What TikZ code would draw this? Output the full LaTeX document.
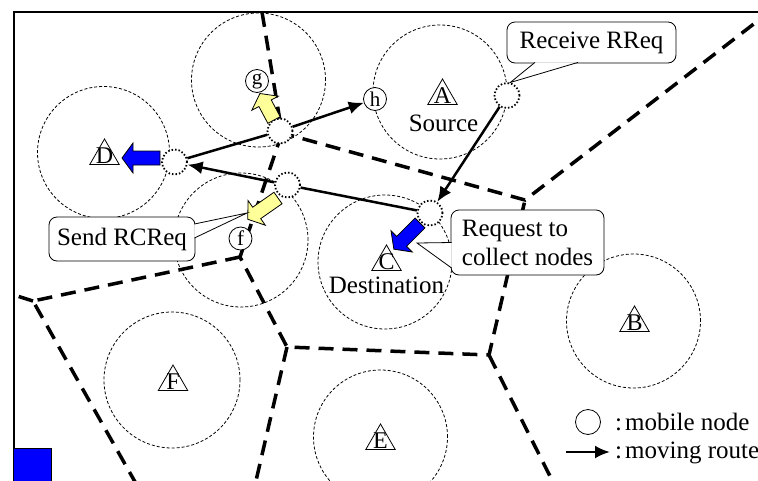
\documentclass[tikz,border=0pt]{standalone}
\usepackage{fontspec}
\setmainfont{Liberation Serif}
\usetikzlibrary{shapes.geometric,arrows.meta}
\definecolor{paleyellow}{RGB}{255,255,153}
\newcommand{\fatarrow}[4]{% tail, angle, length, colour
  \draw[line width=0.8pt,fill=#4,shift={#1},rotate=#2]
    (0,-7) -- ({#3-11},-7) -- ({#3-11},-15) -- (#3,0) -- ({#3-11},15) -- ({#3-11},7) -- (0,7) -- cycle;}
\tikzset{
  cellborder/.style={line width=3.5pt,dash pattern=on 15pt off 9pt},
  radiorange/.style={line width=0.8pt,dash pattern=on 3pt off 2pt},
  relay/.style={circle,draw,fill=white,line width=1.8pt,dash pattern=on 1.5pt off 2pt,minimum size=25pt,inner sep=0pt},
  mnode/.style={circle,draw,fill=white,line width=0.8pt,minimum size=23pt,inner sep=0pt,font=\fontsize{21}{21}\selectfont},
  station/.style={regular polygon,regular polygon sides=3,draw,line width=0.8pt,minimum size=34pt,inner sep=0pt,
    label={[font=\fontsize{24}{24}\selectfont,inner sep=0pt]center:#1}},
  route/.style={line width=2.5pt,-{Latex[length=15pt,width=13pt]}},
  callout/.style={draw,fill=white,rounded corners=8pt,line width=0.8pt,inner sep=0pt,font=\fontsize{25}{29}\selectfont},
  pointer/.style={draw,fill=white,line width=0.8pt},
  txt/.style={inner sep=0pt,font=\fontsize{25}{29}\selectfont}
}

\begin{document}
\begin{tikzpicture}[x=1pt,y=-1pt]
  \useasboundingbox (0,0) rectangle (758,480);
  \draw[line width=2.5pt] (770,12.2) -- (14.2,12.2) -- (14.2,490);
  \draw[fill=blue,line width=0.8pt] (13.5,448) rectangle (51,490);

  % cell borders
  \coordinate (e1) at (262,12);
  \coordinate (e2) at (768,13);
  \coordinate (e3) at (560,496);
  \coordinate (e4) at (252,498);
  \coordinate (e5) at (143,496);
  \coordinate (e6) at (14,295);
  \coordinate (j1) at (282,133);
  \coordinate (j2) at (525,200);
  \coordinate (j3) at (489,355);
  \coordinate (j4) at (287,347);
  \coordinate (j5) at (240,257);
  \coordinate (j6) at (33,301);
  \draw[cellborder] (e1) -- (j1) -- (j2) -- (e2);
  \draw[cellborder] (j1) -- (j5) -- (j4) -- (j3) -- (j2);
  \draw[cellborder] (j5) -- (j6) -- (e5);
  \draw[cellborder] (j6) -- (e6);
  \draw[cellborder] (j4) -- (e4);
  \draw[cellborder] (j3) -- (e3);

  % radio ranges
  \draw[radiorange] (258.5,80) circle (67pt);
  \draw[radiorange] (103.5,152.5) circle (66pt);
  \draw[radiorange] (440,92) circle (67pt);
  \draw[radiorange] (241,240) circle (67pt);
  \draw[radiorange] (385,262) circle (67pt);
  \draw[radiorange] (633.5,321) circle (67pt);
  \draw[radiorange] (172,380) circle (68pt);
  \draw[radiorange] (380.5,437) circle (67pt);

  \node[station=A] (stA) at (442.5,96) {};
  \node[station=B] (stB) at (634.5,323) {};
  \node[station=C] (stC) at (386.5,262) {};
  \node[station=D] (stD) at (104.5,156) {};
  \node[station=E] (stE) at (380.5,441) {};
  \node[station=F] (stF) at (173,382) {};
  \node[txt,anchor=base] (srclab) at (443.5,131) {Source};
  \node[txt,anchor=base] (dstlab) at (386.5,293) {Destination};

  \node[mnode] (g) at (257,81) {g};
  \node[mnode] (h) at (375,99) {h};
  \node[mnode] (f) at (240.5,238.5) {f};

  \node[relay] (P1) at (280,131) {};
  \node[relay] (P2) at (174.5,162) {};
  \node[relay] (P3) at (287.5,185) {};
  \node[relay] (P4) at (507,95.5) {};
  \node[relay] (P5) at (430,213) {};

  \draw[line width=2.5pt] (P2) -- (P1);
  \draw[route] (P1) -- (h);
  \draw[route] (P4) -- (P5);
  \draw[line width=2.5pt] (P5) -- (P3);
  \draw[route] (P3) -- (P2);

  \fatarrow{(160,158)}{180}{38}{blue}
  \fatarrow{(420,223)}{225}{37}{blue}
  \fatarrow{(274,120)}{118}{30}{paleyellow}
  \fatarrow{(278,198)}{215}{37}{paleyellow}

  % callouts
  \node[callout,minimum width=169pt,minimum height=41pt] (rreq) at (591.5,42.5) {Receive RReq};
  \draw[pointer] ([xshift=-56.5pt,yshift=1pt]rreq.south) -- (P4.76) -- ([xshift=-13.5pt,yshift=1pt]rreq.south);
  \node[callout,minimum width=146pt,minimum height=44pt] (rcreq) at (122,239) {Send RCReq};
  \coordinate (rcreqtip) at (247,213);
  \draw[pointer] ([xshift=-1pt,yshift=15pt]rcreq.east) -- (rcreqtip) -- ([xshift=-1pt,yshift=1pt]rcreq.east);
  \node[callout,minimum width=153pt,minimum height=65pt,align=left] (rcol) at (527.5,242.5) {Request to\\collect nodes};
  \coordinate (rcoltip) at (417,243);
  \draw[pointer] ([xshift=1pt]rcol.west) -- (rcoltip) -- ([xshift=1pt,yshift=-25.5pt]rcol.west);

  % legend
  \node[mnode,minimum size=25pt] (lgnode) at (588,422) {};
  \node[txt,anchor=base west] (lgtxt1) at (615,430) {:\hspace{3pt}mobile node};
  \coordinate (lgs) at (566,452);
  \coordinate (lge) at (610,452);
  \draw[route] (lgs) -- (lge);
  \node[txt,anchor=base west] (lgtxt2) at (615,458) {:\hspace{3pt}moving route};
\end{tikzpicture}
\end{document}
